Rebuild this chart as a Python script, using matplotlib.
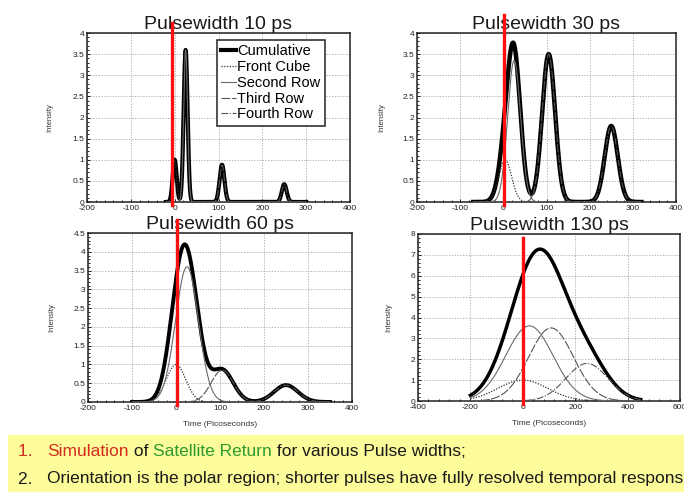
import matplotlib
matplotlib.use("Agg")
import matplotlib.pyplot as plt
import numpy as np
from matplotlib.patches import Rectangle
from matplotlib.ticker import FormatStrFormatter, MultipleLocator

# --- data -----------------------------------------------------------------
panel_titles = ["Pulsewidth 10 ps", "Pulsewidth 30 ps", "Pulsewidth 60 ps", "Pulsewidth 130 ps"]
row_names = ["Front Cube", "Second Row", "Third Row", "Fourth Row"]

# pulse centre (ps), peak intensity and gaussian sigma (ps) of each row
centers_10 = [0, 25, 108, 250]
amps_10 = [1.0, 3.6, 0.88, 0.42]
sigmas_10 = [4.5, 4.5, 5.5, 5.5]

centers_30 = [4, 25, 105, 250]
amps_30 = [1.0, 3.35, 3.5, 1.8]
sigmas_30 = [15, 15, 15, 15]

centers_60 = [0, 25, 105, 250]
amps_60 = [1.0, 3.6, 0.85, 0.45]
sigmas_60 = [22, 26, 25, 27]

centers_130 = [0, 25, 108, 245]
amps_130 = [1.0, 3.6, 3.5, 1.8]
sigmas_130 = [95, 90, 85, 80]

# simulated time window of each panel (ps)
time_windows = [(-20, 300), (-70, 320), (-100, 350), (-200, 450)]
# position of the red marker line (ps)
marker_times = [-6, 2, 3, 0]

x_limits = [(-200, 400), (-200, 400), (-200, 400), (-400, 600)]
y_limits = [(0, 4), (0, 4), (0, 4.5), (0, 8)]
y_steps = [0.5, 0.5, 0.5, 1]

note_line1 = [("1.   ", "#d42a20"), ("Simulation", "#d42a20"), (" of ", "#1a1a1a"),
              ("Satellite Return", "#2f9a2f"), (" for various Pulse widths;", "#1a1a1a")]
note_line2 = [("2.   ", "#1a1a1a"),
              ("Orientation is the polar region; shorter pulses have fully resolved temporal response", "#1a1a1a")]

# --- layout ---------------------------------------------------------------
W, H = 684, 492
axes_px = [  # left, top, right, bottom in pixels
    (87, 33, 350, 202),
    (417, 33, 676, 202),
    (88, 233, 352, 402),
    (418, 234, 680, 401),
]
marker_tops = [4.24, 4.43, 4.85, 7.8]
ylabel_gap_px = [34, 32, 33, 26]

plt.rcParams["font.family"] = ["Liberation Sans", "DejaVu Sans"]
plt.rcParams["axes.unicode_minus"] = False

fig = plt.figure(figsize=(W / 100, H / 100), dpi=100)
fig.patch.set_facecolor("white")

all_params = [
    (centers_10, amps_10, sigmas_10),
    (centers_30, amps_30, sigmas_30),
    (centers_60, amps_60, sigmas_60),
    (centers_130, amps_130, sigmas_130),
]
row_styles = [
    dict(linestyle=(0, (1, 1.2)), color="#333333", linewidth=0.9),
    dict(linestyle="-", color="#6a6a6a", linewidth=0.8),
    dict(linestyle=(0, (8, 1.5)), color="#555555", linewidth=0.8),
    dict(linestyle=(0, (6, 1.5, 1, 1.5)), color="#555555", linewidth=0.8),
]
cum_widths = [3.0, 3.2, 2.8, 2.5]

for i, (l, t, r, b) in enumerate(axes_px):
    ax = fig.add_axes([l / W, 1 - b / H, (r - l) / W, (b - t) / H])
    centers, amps, sigmas = all_params[i]
    time = np.linspace(time_windows[i][0], time_windows[i][1], 800)
    rows = [a * np.exp(-((time - c) ** 2) / (2 * s ** 2)) for c, a, s in zip(centers, amps, sigmas)]
    cumulative = np.sum(rows, axis=0)

    ax.plot(time, cumulative, color="black", linewidth=cum_widths[i], label="Cumulative", zorder=3)
    for name, row, style in zip(row_names, rows, row_styles):
        ax.plot(time, row, label=name, zorder=4, **style)

    ax.plot([marker_times[i]] * 2, [-0.015 * y_limits[i][1], marker_tops[i]],
            color="#ff1010", linewidth=2.4, clip_on=False, zorder=6)

    ax.set_xlim(*x_limits[i])
    ax.set_ylim(*y_limits[i])
    ax.xaxis.set_major_locator(MultipleLocator(100 if i < 3 else 200))
    ax.yaxis.set_major_locator(MultipleLocator(y_steps[i]))
    ax.yaxis.set_major_formatter(FormatStrFormatter("%g"))
    ax.yaxis.set_minor_locator(MultipleLocator(y_steps[i] / 5))
    ax.xaxis.set_minor_locator(MultipleLocator(20 if i < 3 else 40))
    ax.tick_params(which="both", direction="in", labelsize=6, length=2.5, width=0.6,
                   labelcolor="#222222", pad=2)
    ax.tick_params(which="minor", length=1.5)
    ax.grid(True, which="major", linestyle=(0, (2, 2)), color="#9a9a9a", linewidth=0.5)
    for sp in ax.spines.values():
        sp.set_linewidth(1.1)
        sp.set_color("#222222")

    ax.set_ylabel("Intensity", fontsize=5.5, color="#333333")
    ax.yaxis.set_label_coords(-ylabel_gap_px[i] / (r - l), 0.5)
    if i >= 2:
        ax.set_xlabel("Time (Picoseconds)", fontsize=6, color="#333333")
        ax.xaxis.set_label_coords(0.5, -19 / (b - t))
    ax.set_title(panel_titles[i], fontsize=14, pad=2, color="#1a1a1a")

    if i == 0:
        leg = ax.legend(loc="upper right", bbox_to_anchor=((325 - l) / (r - l), 1 - 7 / (b - t)),
                        fontsize=10.5, handlelength=1.0, handletextpad=0.1,
                        borderpad=0.3, labelspacing=0.12, frameon=True, fancybox=False,
                        borderaxespad=0.0)
        leg.get_frame().set_edgecolor("#222222")
        leg.get_frame().set_linewidth(1.1)
        leg.get_frame().set_alpha(1)

# --- yellow note box ------------------------------------------------------
fig.patches.append(Rectangle((8 / W, 0), 1, (H - 435) / H, transform=fig.transFigure,
                             facecolor="#fcfc9a", edgecolor="none", zorder=0))

renderer = fig.canvas.get_renderer()


def write_line(parts, x_px, y_px):
    x = x_px / W
    for text, color in parts:
        txt = fig.text(x, 1 - y_px / H, text, fontsize=12.5, color=color, va="center",
                       ha="left", family=["Liberation Sans Narrow", "Liberation Sans", "DejaVu Sans"])
        x = fig.transFigure.inverted().transform(txt.get_window_extent(renderer))[1][0]


write_line(note_line1, 18, 452)
write_line(note_line2, 18, 479)

fig.savefig("out.png", dpi=100)
